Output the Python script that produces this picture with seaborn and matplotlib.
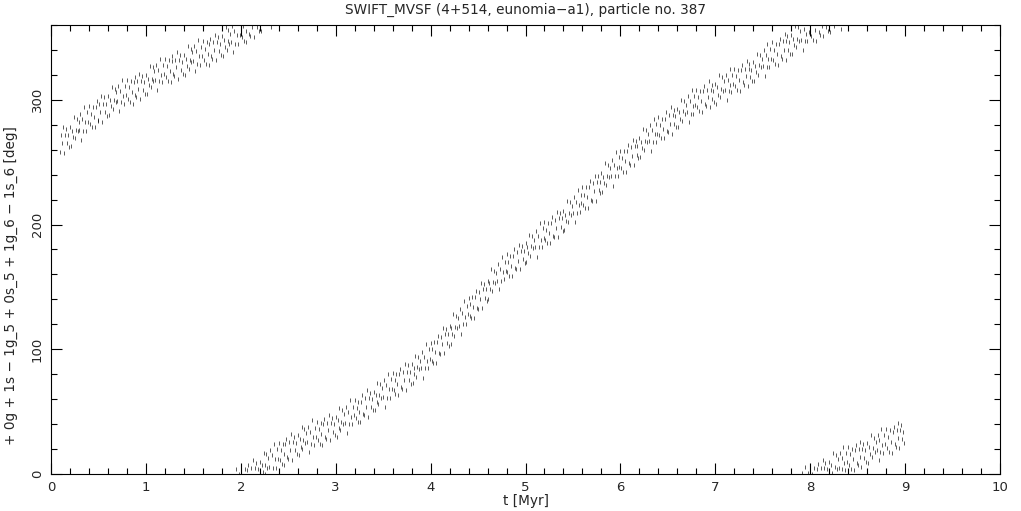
import numpy as np
import pandas as pd
import matplotlib
matplotlib.use("Agg")
import matplotlib.pyplot as plt
import seaborn as sns
from matplotlib.ticker import MultipleLocator

title = "SWIFT_MVSF (4+514, eunomia\u2212a1), particle no. 387"
xlabel = "t [Myr]"
ylabel = "+ 0g + 1s \u2212 1g_5 + 0s_5 + 1g_6 \u2212 1s_6 [deg]"
xticks = [0, 1, 2, 3, 4, 5, 6, 7, 8, 9, 10]
yticks = [0, 100, 200, 300]

# output times [Myr], one sample every 0.01 Myr from 0.10 to 8.99
t_myr = np.round(np.arange(10, 900) / 100.0, 2)

# resonant angle (unwrapped, deg), read row by row (10 samples per 0.1 Myr)
angle_unwrapped = [
    258, 272, 265, 278, 257, 272, 277, 265, 272, 262,
    278, 263, 275, 270, 286, 269, 276, 285, 275, 282,
    276, 289, 268, 285, 275, 294, 282, 275, 290, 282,
    295, 281, 289, 278, 294, 286, 278, 294, 299, 284,
    283, 297, 290, 303, 282, 297, 302, 290, 297, 287,
    303, 288, 300, 295, 310, 293, 300, 309, 298, 306,
    299, 311, 291, 307, 298, 316, 303, 297, 311, 304,
    316, 301, 310, 298, 315, 306, 297, 314, 318, 304,
    302, 315, 309, 321, 301, 315, 319, 308, 314, 305,
    320, 305, 317, 312, 327, 310, 317, 326, 315, 323,
    316, 328, 308, 324, 315, 333, 320, 314, 328, 321,
    333, 318, 327, 315, 332, 323, 314, 331, 335, 321,
    319, 332, 326, 338, 317, 332, 336, 324, 330, 321,
    336, 320, 333, 327, 343, 325, 332, 341, 330, 338,
    331, 343, 323, 339, 329, 348, 335, 328, 342, 335,
    347, 332, 341, 329, 346, 337, 328, 345, 349, 335,
    333, 346, 340, 352, 332, 346, 350, 339, 345, 336,
    351, 335, 348, 342, 358, 340, 347, 356, 345, 353,
    346, 359, 338, 355, 345, 364, 352, 345, 360, 352,
    365, 350, 359, 347, 364, 355, 346, 363, 367, 353,
    351, 365, 358, 371, 350, 365, 369, 358, 364, 355,
    370, 355, 367, 362, 377, 360, 367, 376, 365, 373,
    366, 379, 358, 375, 365, 384, 372, 365, 380, 372,
    385, 371, 379, 368, 384, 376, 367, 384, 388, 374,
    372, 386, 379, 392, 371, 386, 390, 379, 385, 376,
    391, 375, 388, 382, 398, 380, 387, 396, 385, 393,
    386, 398, 378, 394, 384, 403, 390, 383, 397, 390,
    402, 387, 396, 384, 401, 392, 383, 400, 404, 390,
    388, 401, 395, 407, 387, 401, 405, 394, 400, 391,
    406, 390, 403, 397, 413, 395, 402, 411, 400, 408,
    401, 414, 393, 410, 400, 419, 406, 400, 414, 407,
    419, 405, 413, 402, 418, 410, 402, 418, 423, 408,
    407, 421, 414, 427, 406, 421, 425, 414, 420, 411,
    426, 411, 423, 418, 433, 416, 423, 432, 421, 429,
    422, 435, 414, 431, 421, 440, 428, 421, 436, 428,
    441, 427, 435, 424, 440, 432, 423, 440, 444, 430,
    428, 442, 435, 448, 427, 442, 447, 435, 442, 432,
    448, 433, 445, 440, 455, 438, 446, 454, 444, 451,
    445, 458, 437, 454, 445, 464, 451, 445, 460, 452,
    465, 451, 460, 449, 466, 458, 449, 466, 471, 457,
    456, 470, 464, 477, 457, 472, 476, 465, 472, 463,
    479, 464, 477, 472, 488, 471, 478, 487, 477, 485,
    479, 492, 472, 489, 480, 499, 486, 480, 495, 488,
    501, 487, 496, 485, 502, 494, 485, 502, 507, 493,
    492, 506, 500, 513, 493, 508, 512, 501, 508, 499,
    515, 500, 513, 508, 524, 507, 514, 523, 513, 521,
    515, 528, 508, 524, 515, 534, 522, 516, 530, 523,
    536, 522, 530, 519, 535, 527, 519, 535, 540, 525,
    524, 538, 531, 544, 524, 539, 543, 532, 539, 529,
    545, 530, 542, 537, 552, 535, 543, 551, 541, 548,
    542, 555, 534, 551, 542, 561, 548, 542, 557, 549,
    562, 548, 556, 545, 561, 553, 545, 561, 566, 551,
    550, 564, 557, 570, 550, 565, 569, 558, 565, 555,
    571, 556, 568, 563, 579, 562, 569, 578, 568, 575,
    569, 582, 562, 578, 569, 588, 576, 570, 584, 577,
    590, 576, 584, 573, 590, 582, 573, 590, 595, 580,
    579, 593, 587, 599, 579, 594, 599, 588, 594, 585,
    601, 586, 598, 593, 609, 592, 599, 608, 598, 605,
    599, 612, 591, 608, 599, 618, 605, 599, 614, 606,
    619, 605, 613, 602, 619, 611, 602, 619, 624, 609,
    608, 622, 615, 628, 608, 623, 627, 616, 623, 613,
    629, 614, 626, 621, 637, 620, 627, 636, 626, 633,
    627, 640, 619, 636, 626, 645, 633, 626, 641, 633,
    646, 632, 640, 629, 645, 637, 629, 645, 650, 635,
    634, 648, 641, 654, 633, 648, 652, 641, 647, 638,
    653, 638, 650, 645, 660, 643, 651, 659, 649, 656,
    650, 663, 642, 659, 649, 668, 655, 649, 663, 656,
    668, 654, 662, 651, 667, 659, 650, 667, 671, 657,
    655, 668, 662, 675, 654, 668, 672, 661, 667, 658,
    673, 657, 670, 664, 680, 662, 669, 678, 667, 675,
    668, 680, 660, 676, 667, 685, 672, 666, 680, 673,
    685, 671, 679, 668, 684, 676, 667, 684, 688, 674,
    672, 685, 679, 691, 671, 685, 689, 678, 684, 675,
    690, 675, 687, 682, 697, 680, 688, 696, 686, 693,
    687, 700, 679, 696, 686, 705, 693, 686, 701, 693,
    706, 692, 700, 689, 705, 697, 688, 705, 709, 695,
    693, 707, 700, 713, 692, 707, 711, 700, 706, 697,
    712, 697, 709, 704, 719, 702, 709, 718, 707, 715,
    708, 721, 700, 717, 707, 726, 713, 707, 721, 714,
    726, 711, 720, 708, 725, 716, 707, 724, 728, 714,
    712, 725, 719, 731, 711, 725, 729, 718, 724, 715,
    730, 714, 727, 721, 737, 719, 726, 735, 724, 732,
    725, 737, 717, 733, 724, 742, 729, 723, 737, 730,
    742, 727, 736, 724, 740, 732, 723, 739, 743, 729,
    727, 740, 734, 746, 726, 740, 744, 733, 739, 730,
    745, 729, 742, 736, 751, 734, 741, 749, 738, 746,
    739, 751, 731, 747, 738, 756, 743, 737, 751, 744,
    756, 741, 750, 738, 755, 746, 737, 754, 758, 744,
    742, 755, 749, 761, 741, 755, 759, 748, 754, 745,
]

df = pd.DataFrame({"t": t_myr, "angle": np.mod(np.array(angle_unwrapped, dtype=float), 360.0)})

sns.set_theme(style="white")
plt.rcParams["font.family"] = ["DejaVu Sans"]

fig = plt.figure(figsize=(10.21, 5.11), dpi=100)
ax = fig.add_axes([51 / 1021, 37 / 511, 949 / 1021, 449 / 511])

sns.scatterplot(data=df, x="t", y="angle", ax=ax, marker="|", s=12,
                color="black", linewidth=0.45, legend=False)

ax.set_xlim(0, 10)
ax.set_ylim(0, 360)
ax.set_xticks(xticks)
ax.set_yticks(yticks)
ax.xaxis.set_minor_locator(MultipleLocator(0.2))
ax.yaxis.set_minor_locator(MultipleLocator(20))
ax.tick_params(which="both", direction="in", top=True, right=True,
               bottom=True, left=True, color="black", width=0.8)
ax.tick_params(which="major", length=8, labelsize=9.5, pad=5)
ax.tick_params(which="minor", length=4)
for lbl in ax.get_yticklabels():
    lbl.set_rotation(90)
    lbl.set_va("center")
for sp in ax.spines.values():
    sp.set_color("black")
    sp.set_linewidth(0.8)

ax.set_title(title, fontsize=9.8, pad=8)
ax.set_xlabel(xlabel, fontsize=9.8, labelpad=0)
ax.set_ylabel(ylabel, fontsize=9.8)
ax.yaxis.set_label_coords(-0.035, 0.42)

fig.savefig("out.png", dpi=100, facecolor="white")
